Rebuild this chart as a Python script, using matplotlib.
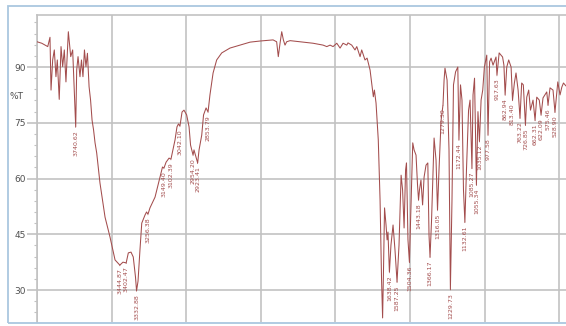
import numpy as np
import matplotlib.pyplot as plt
from matplotlib.patches import Rectangle

# IR spectrum, wavenumber (cm-1) vs transmittance (%T)
wavenumber = [
    4000, 3968, 3946, 3928, 3913, 3906, 3895, 3884, 3873, 3864,
    3851, 3839, 3828, 3817, 3806, 3790, 3774, 3761, 3740.62, 3734,
    3725, 3712, 3702, 3692, 3682, 3672, 3662, 3651, 3641, 3631,
    3621, 3611, 3600, 3578, 3544, 3511, 3477, 3444.87, 3424, 3402.47,
    3388, 3370, 3355, 3340, 3332.88, 3323, 3310, 3298, 3276, 3266,
    3256.38, 3243, 3209, 3176, 3159, 3149.40, 3135, 3115, 3102.39, 3089,
    3075, 3062, 3052, 3042.10, 3028, 3015, 2997, 2981, 2971, 2954.20,
    2948, 2923.41, 2914, 2896, 2884, 2867, 2853.79, 2841, 2820, 2796,
    2762, 2707, 2639, 2572, 2505, 2418, 2394, 2383, 2371, 2360,
    2349, 2338, 2327, 2304, 2237, 2150, 2083, 2058, 2036, 2016,
    1991, 1969, 1949, 1924, 1916, 1891, 1869, 1857, 1835, 1824,
    1802, 1788, 1768, 1757, 1746, 1739, 1728, 1713, 1701, 1691,
    1684, 1678, 1671, 1661, 1654, 1648, 1638.42, 1628, 1614, 1601,
    1587.25, 1574, 1560, 1550, 1540, 1530, 1524, 1514, 1504.36, 1493,
    1482, 1473, 1460, 1450, 1443.18, 1437, 1427, 1416, 1406, 1393,
    1381, 1373, 1366.17, 1356, 1339, 1326, 1316.05, 1306, 1292, 1279.30,
    1272, 1266, 1252, 1239, 1229.73, 1219, 1209, 1195, 1180, 1172.44,
    1162, 1152, 1142, 1132.61, 1122, 1108, 1098, 1085.27, 1078, 1068,
    1055.34, 1045, 1035.12, 1024, 1013, 1002, 986, 977.58, 967, 957,
    944, 924, 917.63, 903, 880, 871, 862.94, 852, 839, 823,
    813.40, 801, 790, 776, 763.22, 752, 741, 726.85, 718, 705,
    693, 676, 662.31, 651, 634, 622.09, 609, 584, 575.46, 562,
    542, 528.90, 510, 495, 483, 472, 455, 428,
]
transmittance = [
    96.8, 96.4, 95.9, 95.5, 98.0, 83.8, 91.9, 94.6, 87.4, 91.9,
    81.3, 95.5, 90.1, 94.6, 86.0, 99.5, 92.8, 94.6, 73.9, 89.2,
    92.8, 87.4, 91.9, 87.4, 94.6, 90.1, 93.7, 84.7, 81.1, 75.7,
    73.1, 69.6, 66.9, 58.8, 49.6, 44.3, 38.1, 36.7, 37.5, 37.3,
    40.0, 40.2, 38.9, 33.5, 29.8, 32.4, 40.8, 48.0, 50.2, 51.0,
    50.4, 52.1, 55.0, 60.4, 63.1, 62.8, 64.4, 65.5, 65.2, 67.7,
    70.4, 73.9, 74.7, 74.1, 77.9, 78.4, 77.1, 73.9, 69.0, 66.3,
    67.7, 64.2, 67.7, 71.7, 77.1, 79.0, 77.9, 82.5, 88.4, 91.9,
    93.8, 95.1, 95.9, 96.7, 97.0, 97.3, 96.8, 92.8, 96.5, 99.5,
    97.3, 95.9, 96.8, 97.1, 96.8, 96.4, 95.9, 95.5, 95.9, 95.5,
    96.4, 95.1, 96.4, 95.9, 96.5, 95.9, 94.6, 95.5, 92.8, 94.6,
    91.9, 92.4, 89.2, 85.7, 82.0, 83.8, 80.3, 70.4, 54.2, 32.7,
    22.5, 35.4, 52.1, 47.5, 43.5, 45.6, 34.8, 42.1, 47.5, 40.8,
    32.2, 42.1, 60.9, 56.9, 46.7, 62.3, 64.2, 43.5, 37.5, 54.2,
    69.6, 67.7, 66.3, 58.3, 54.2, 56.9, 59.6, 52.9, 60.4, 63.6,
    64.2, 44.8, 38.9, 48.8, 70.9, 65.0, 51.5, 62.3, 75.7, 79.8,
    86.5, 89.7, 86.5, 67.7, 30.2, 54.2, 85.2, 88.7, 90.0, 70.4,
    85.2, 81.1, 56.9, 48.3, 62.3, 78.4, 81.1, 62.8, 82.5, 87.0,
    58.3, 78.0, 70.0, 81.1, 83.8, 90.0, 93.2, 71.7, 91.4, 92.4,
    90.5, 92.7, 87.8, 93.8, 92.7, 90.5, 82.5, 90.0, 91.9, 90.0,
    81.1, 85.7, 88.4, 83.8, 76.3, 85.7, 85.2, 74.4, 81.9, 83.8,
    78.4, 81.1, 75.7, 81.9, 81.1, 77.1, 81.7, 83.3, 79.8, 84.4,
    83.8, 77.9, 86.0, 82.5, 84.6, 85.7, 84.9, 85.2,
]

# picked peaks (band minima)
peak_wn = [
    3740.62, 3444.87, 3402.47, 3332.88, 3256.38, 3149.40, 3102.39, 3042.10,
    2954.20, 2923.41, 2853.79, 1638.42, 1587.25, 1504.36, 1443.18, 1366.17,
    1316.05, 1279.30, 1229.73, 1172.44, 1132.61, 1085.27, 1055.34, 1035.12,
    977.58, 917.63, 862.94, 813.40, 763.22, 726.85, 662.31, 622.09, 575.46,
    528.90,
]

y_ticks = [30, 45, 60, 75, 90]
x_grid = [4000, 3500, 3000, 2500, 2000, 1500, 1000, 500]

line_col = '#a34d4d'
grid_col = '#c2c2c2'

W, H = 566, 326
fig = plt.figure(figsize=(W / 100, H / 100), dpi=100)

# light blue outer frame
fig.patches.append(Rectangle((8 / W, 3 / H), 1.2, (323 - 6) / H,
                             transform=fig.transFigure, facecolor='none',
                             edgecolor='#aac7df', lw=1.3, zorder=0))

ax = fig.add_axes([37 / W, (H - 322) / H, (W - 37) / W, (322 - 15) / H])
ax.set_xlim(4000, 455)
ax.set_ylim(21.4, 104.0)

ax.plot(wavenumber, transmittance, color=line_col, lw=0.75, zorder=3)

wn_arr = np.array(wavenumber[::-1])
t_arr = np.array(transmittance[::-1])
for w in peak_wn:
    t = np.interp(w, wn_arr, t_arr)
    lab = ax.annotate(f'{w:.2f}', xy=(w, t), xytext=(0, -2.5),
                      textcoords='offset points', rotation=90, ha='center',
                      va='top', fontsize=4.5, color=line_col,
                      arrowprops=dict(arrowstyle='-', lw=0.5, color=line_col,
                                      shrinkA=0, shrinkB=0.5), zorder=4)
    lab.set_clip_on(True)

ax.set_xticks(x_grid)
ax.set_xticklabels([])
ax.tick_params(axis='x', length=0)
ax.set_yticks(y_ticks)
ax.set_yticks(np.arange(24, 104, 3), minor=True)
ax.tick_params(axis='y', which='major', length=7, width=1.2, color=grid_col,
               labelsize=6.5, labelcolor='#505050', pad=1)
ax.tick_params(axis='y', which='minor', length=2.5, width=0.8, color=grid_col)
ax.grid(True, which='major', color=grid_col, lw=1.2)
ax.set_axisbelow(True)

for side in ['right', 'bottom']:
    ax.spines[side].set_visible(False)
for side in ['left', 'top']:
    ax.spines[side].set_color(grid_col)
    ax.spines[side].set_linewidth(1.2)

fig.text(16.5 / W, 1 - 96 / H, '%T', fontsize=6.5, color='#505050',
         ha='center', va='center')

fig.savefig('out.png', dpi=100)
